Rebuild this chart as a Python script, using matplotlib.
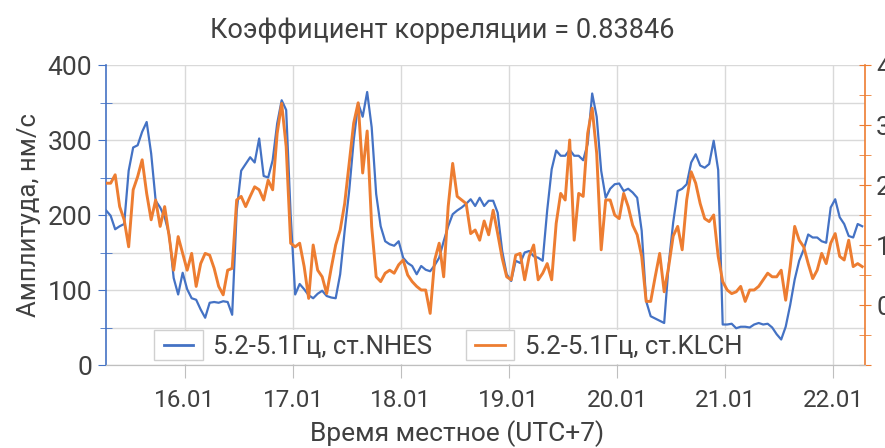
import numpy as np
import matplotlib.pyplot as plt
from matplotlib.ticker import MultipleLocator, FixedLocator, FuncFormatter
from matplotlib.legend_handler import HandlerBase
from matplotlib.patches import Rectangle
from matplotlib.lines import Line2D

plt.rcParams['font.family'] = ['Roboto', 'DejaVu Sans']

# hourly samples, day of January (local time)
t_start = 15.27
t_step = 1 / 24

# amplitude, nm/s, station NHES (left axis)
nhes = [206, 199, 181, 185, 188, 259, 290, 293, 311, 324,
        282, 219, 210, 197, 174, 116, 94, 123, 101, 89,
        87, 74, 63, 83, 84, 83, 85, 84, 67, 205,
        259, 268, 277, 270, 302, 252, 250, 273, 322, 353,
        340, 200, 94, 108, 101, 93, 89, 95, 99, 92,
        90, 89, 121, 179, 232, 299, 349, 331, 364, 317,
        228, 185, 165, 161, 159, 165, 143, 136, 132, 121,
        132, 127, 125, 133, 143, 165, 185, 201, 206, 210,
        215, 221, 212, 223, 212, 219, 219, 203, 152, 121,
        112, 139, 136, 150, 152, 145, 143, 139, 206, 261,
        286, 279, 279, 287, 279, 279, 273, 295, 362, 331,
        259, 223, 235, 241, 242, 232, 235, 230, 223, 179,
        85, 65, 62, 59, 56, 134, 190, 232, 235, 241,
        270, 281, 266, 263, 268, 299, 260, 54, 54, 55,
        49, 51, 51, 50, 54, 56, 54, 55, 50, 41,
        34, 51, 80, 114, 139, 154, 174, 170, 170, 165,
        163, 210, 221, 197, 188, 172, 170, 188, 185]

# amplitude, station KLCH (right axis)
klch = [203, 203, 217, 164, 142, 97, 192, 214, 242, 186,
        142, 175, 131, 164, 114, 58, 114, 86, 58, 86,
        31, 69, 86, 83, 61, 31, 17, 58, 61, 175,
        181, 164, 181, 197, 192, 175, 208, 192, 286, 336,
        264, 103, 97, 103, 64, 11, 100, 58, 47, 19,
        61, 100, 125, 169, 236, 303, 337, 220, 290, 131,
        47, 39, 53, 58, 53, 67, 75, 50, 39, 31,
        25, 25, -14, 75, 103, 47, 164, 236, 181, 175,
        169, 119, 125, 108, 140, 117, 158, 119, 78, 47,
        42, 83, 86, 42, 81, 100, 42, 53, 69, 42,
        136, 186, 175, 275, 108, 186, 181, 286, 328, 253,
        92, 175, 175, 150, 144, 186, 164, 133, 117, 81,
        6, 6, 47, 86, 22, 64, 115, 131, 92, 175,
        222, 203, 169, 144, 139, 150, 81, 39, 25, 19,
        22, 31, 6, 25, 25, 31, 42, 53, 47, 47,
        58, 8, 64, 131, 108, 97, 69, 44, 58, 86,
        69, 103, 119, 81, 75, 108, 64, 69, 64]

days = [16, 17, 18, 19, 20, 21, 22]
day_labels = ['16.01', '17.01', '18.01', '19.01', '20.01', '21.01', '22.01']

label_nhes = '5.2-5.1Гц, ст.NHES'
label_klch = '5.2-5.1Гц, ст.KLCH'

blue = '#4472C4'
orange = '#ED7D31'
text_col = '#404040'
grid_col = '#D9D9D9'


class BoxedLine(HandlerBase):
    """Legend key: short line inside a light frame."""
    def create_artists(self, legend, orig_handle, xdescent, ydescent,
                       width, height, fontsize, trans):
        box = Rectangle((-xdescent, -ydescent - 4), width, height + 8,
                        facecolor='white', edgecolor='#D0D0D0', lw=1.0,
                        transform=trans)
        y = -ydescent + height / 2
        line = Line2D([-xdescent + 0.2 * width, -xdescent + 0.8 * width], [y, y],
                      color=orig_handle.get_color(), lw=2.0, transform=trans)
        return [box, line]


t = t_start + np.arange(len(nhes)) * t_step

fig = plt.figure(figsize=(8.85, 4.48), dpi=100)
ax = fig.add_axes([106 / 885, 1 - 365 / 448, 759 / 885, 300 / 448])
ax2 = ax.twinx()

l1, = ax.plot(t, nhes, color=blue, lw=1.6, label=label_nhes)
l2, = ax2.plot(t, klch, color=orange, lw=2.1, label=label_klch)

ax.set_xlim(15.2685, 22.296)
ax.set_ylim(0, 400)
ax2.set_ylim(-100, 400)

ax.xaxis.set_major_locator(FixedLocator(days))
ax.set_xticklabels(day_labels)
ax.yaxis.set_major_locator(MultipleLocator(100))
ax.yaxis.set_minor_locator(MultipleLocator(50))
ax2.yaxis.set_major_locator(MultipleLocator(100))
ax2.yaxis.set_minor_locator(MultipleLocator(50))
ax2.yaxis.set_major_formatter(FuncFormatter(lambda v, p: '' if v < 0 else f'{v:.0f}'))

ax.grid(True, which='both', axis='y', color=grid_col, lw=1.0)
ax.grid(True, which='major', axis='x', color=grid_col, lw=1.0)
ax.set_axisbelow(True)

for a in (ax, ax2):
    a.spines['top'].set_visible(False)
    a.spines['bottom'].set_color('#BFBFBF')
ax.spines['right'].set_visible(False)
ax2.spines['left'].set_visible(False)
ax.spines['left'].set_color(blue)
ax2.spines['right'].set_color(orange)
ax.spines['left'].set_linewidth(1.2)
ax2.spines['right'].set_linewidth(1.2)

ax.tick_params(axis='y', which='major', direction='out', length=6, color=blue,
               labelsize=19, labelcolor=text_col, pad=4)
ax.tick_params(axis='y', which='minor', direction='inout', length=8, color=blue)
ax2.tick_params(axis='y', which='major', direction='inout', length=8, color=orange,
                labelsize=19, labelcolor=text_col, pad=4)
ax2.tick_params(axis='y', which='minor', direction='inout', length=8, color=orange)
ax.tick_params(axis='x', which='major', direction='out', length=9, color='#BFBFBF',
               labelsize=17.5, labelcolor=text_col, pad=8)

ax.set_ylabel('Амплитуда, нм/с', fontsize=18.5, color=text_col, labelpad=5)

fig.text(0.5, 1 - 30 / 448, 'Коэффициент корреляции = 0.83846',
         ha='center', va='center', fontsize=19.5, color=text_col)
fig.text(457 / 885, 1 - 434 / 448, 'Время местное (UTC+7)',
         ha='center', va='center', fontsize=19, color=text_col)

leg = ax2.legend(handles=[l1, l2], loc='center', ncol=2,
                 bbox_to_anchor=(448 / 885, 1 - 347 / 448),
                 bbox_transform=fig.transFigure,
                 handler_map={Line2D: BoxedLine()},
                 fontsize=18.5, frameon=True, fancybox=False, framealpha=1,
                 facecolor='white', edgecolor='none', borderpad=0.2,
                 handlelength=1.9, handletextpad=0.4, columnspacing=1.3)
for txt in leg.get_texts():
    txt.set_color(text_col)

fig.savefig('out.png', dpi=100)
